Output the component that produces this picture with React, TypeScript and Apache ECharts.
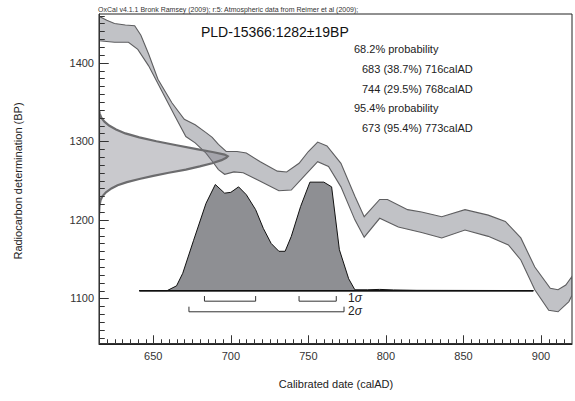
import React, { useEffect, useRef } from 'react';
import * as echarts from 'echarts';

const X_MIN = 615;
const X_MAX = 920;
const Y_MIN = 1042;
const Y_MAX = 1462;

// Calibration curve band (upper = older edge, lower = younger edge)
const curveUpperYears = [615, 620, 625, 632, 638, 642, 647, 653, 662, 670, 677, 684, 688, 692, 697, 704, 710, 719, 730, 736, 744, 750, 756, 762, 771, 780, 786, 796, 801, 814, 823, 836, 851, 866, 877, 887, 896, 906, 911, 916, 920];
const curveUpperBP = [1459, 1454, 1450, 1448, 1447, 1435, 1411, 1379, 1349, 1328, 1321, 1311, 1305, 1296, 1287, 1287, 1285, 1274, 1262, 1261, 1272, 1287, 1299, 1294, 1272, 1230, 1204, 1226, 1226, 1213, 1210, 1204, 1213, 1206, 1198, 1177, 1140, 1113, 1111, 1117, 1128];
const curveLowerYears = [615, 625, 634, 640, 647, 656, 664, 671, 677, 684, 689, 692, 696, 702, 708, 719, 731, 739, 747, 756, 763, 771, 780, 786, 796, 808, 823, 836, 851, 866, 879, 887, 896, 905, 911, 918, 920];
const curveLowerBP = [1428, 1426, 1426, 1417, 1396, 1362, 1332, 1306, 1298, 1285, 1272, 1264, 1258, 1261, 1260, 1249, 1237, 1238, 1255, 1274, 1268, 1242, 1200, 1178, 1202, 1191, 1184, 1177, 1187, 1179, 1168, 1149, 1111, 1085, 1083, 1096, 1104];

// Radiocarbon measurement (drawn against the y axis): BP and width in years
const gaussBP = [1340, 1335, 1330, 1325, 1320, 1315, 1310, 1305, 1300, 1295, 1290, 1286, 1283, 1281, 1279, 1276, 1272, 1268, 1264, 1260, 1256, 1252, 1248, 1244, 1240, 1235, 1230, 1225, 1218, 1206];
const gaussWidth = [0, 0.5, 1.5, 3.5, 6.5, 11, 17, 26, 37, 50, 63, 74, 81, 83, 82, 79, 73, 65, 56, 45, 35, 26, 18, 12, 8, 4.5, 2.2, 1, 0.3, 0];

// Calibrated distribution (height in BP units above the baseline)
const postYears = [641, 659, 665, 669, 676, 684, 690, 696, 700, 705, 710, 716, 721, 726, 731, 735, 739, 745, 751, 760, 765, 770, 776, 780, 788, 796, 805, 820, 895];
const postHeight = [0, 0, 6, 22, 64, 111, 135, 124, 125, 132, 122, 103, 79, 60, 50, 50, 69, 107, 138, 138, 132, 52, 15, 1, 1, 1.5, 0.8, 0.3, 0];
const POST_BASE = 1110;

const sigma1Ranges = [[683, 716], [744, 768]];
const sigma2Ranges = [[673, 773]];

const xMajorTicks = [650, 700, 750, 800, 850, 900];
const yMajorTicks = [1100, 1200, 1300, 1400];
const xMinorTicks = [620, 625, 630, 635, 640, 645, 650, 655, 660, 665, 670, 675, 680, 685, 690, 695, 700, 705, 710, 715, 720, 725, 730, 735, 740, 745, 750, 755, 760, 765, 770, 775, 780, 785, 790, 795, 800, 805, 810, 815, 820, 825, 830, 835, 840, 845, 850, 855, 860, 865, 870, 875, 880, 885, 890, 895, 900, 905, 910, 915];
const yMinorTicks = [1050, 1060, 1070, 1080, 1090, 1100, 1110, 1120, 1130, 1140, 1150, 1160, 1170, 1180, 1190, 1200, 1210, 1220, 1230, 1240, 1250, 1260, 1270, 1280, 1290, 1300, 1310, 1320, 1330, 1340, 1350, 1360, 1370, 1380, 1390, 1400, 1410, 1420, 1430, 1440, 1450, 1460];

const FONT = "'Liberation Sans', Arial, Helvetica, sans-serif";

export default function App() {
  const ref = useRef<HTMLDivElement>(null);
  useEffect(() => {
    document.body.style.margin = '0';
    const chart = echarts.init(ref.current!, null, { renderer: 'svg' });

    const bandRender = (params: any, api: any) => {
      const pts: number[][] = [];
      curveUpperYears.forEach((y, i) => pts.push(api.coord([y, curveUpperBP[i]])));
      for (let i = curveLowerYears.length - 1; i >= 0; i--) pts.push(api.coord([curveLowerYears[i], curveLowerBP[i]]));
      return {
        type: 'polygon',
        shape: { points: pts },
        style: { fill: 'rgba(108,110,120,0.42)', stroke: '#5e5e60', lineWidth: 1.1 },
      };
    };

    const gaussRender = (params: any, api: any) => {
      const pts = gaussBP.map((bp, i) => api.coord([X_MIN + gaussWidth[i], bp]));
      return {
        type: 'polygon',
        shape: { points: pts },
        style: { fill: 'rgba(120,120,130,0.40)', stroke: '#6c6c6e', lineWidth: 2.2 },
      };
    };

    const postRender = (params: any, api: any) => {
      const pts = postYears.map((yr, i) => api.coord([yr, POST_BASE + postHeight[i]]));
      pts.push(api.coord([postYears[postYears.length - 1], POST_BASE]));
      pts.push(api.coord([postYears[0], POST_BASE]));
      const a = api.coord([postYears[0], POST_BASE]);
      const b = api.coord([postYears[postYears.length - 1], POST_BASE]);
      return {
        type: 'group',
        children: [
          {
            type: 'polygon',
            shape: { points: pts },
            style: { fill: '#8e8f93', stroke: '#111', lineWidth: 1 },
          },
          {
            type: 'polyline',
            shape: { points: [[a[0], a[1]], [b[0], b[1]], [b[0], b[1] + 0.6], [a[0], a[1] + 0.6]] },
            style: { stroke: '#111', lineWidth: 1, fill: null },
          },
        ],
      };
    };

    const bracketRender = (params: any, api: any) => {
      const children: any[] = [];
      const levels = [
        { ranges: sigma1Ranges, top: 1103, bot: 1096.5, label: '1{s|σ}', labelBP: 1100 },
        { ranges: sigma2Ranges, top: 1089.5, bot: 1083, label: '2{s|σ}', labelBP: 1083.5 },
      ];
      let maxEnd = 0;
      levels.forEach((l) => l.ranges.forEach((r) => (maxEnd = Math.max(maxEnd, r[1]))));
      levels.forEach((l) => {
        l.ranges.forEach((r) => {
          const p = [
            api.coord([r[0], l.top]),
            api.coord([r[0], l.bot]),
            api.coord([r[1], l.bot]),
            api.coord([r[1], l.top]),
          ];
          children.push({
            type: 'polyline',
            shape: { points: p },
            style: { stroke: '#333', lineWidth: 1, fill: null },
          });
        });
        const t = api.coord([maxEnd, l.labelBP]);
        children.push({
          type: 'text',
          x: t[0] + 4,
          y: t[1],
          style: {
            text: l.label,
            fill: '#222',
            fontSize: 12,
            fontFamily: FONT,
            verticalAlign: 'middle',
            align: 'left',
            rich: { s: { fontStyle: 'italic', fontSize: 12, fontFamily: FONT, fill: '#222' } },
          },
        });
      });
      return { type: 'group', children };
    };

    // inward axis ticks as one long zig-zag polyline per axis (runs along the axis line)
    const tickRender = (params: any, api: any) => {
      const xPts: number[][] = [];
      const origin = api.coord([X_MIN, Y_MIN]);
      xPts.push([origin[0], origin[1] - 0.5]);
      xMinorTicks.forEach((v) => {
        const p = api.coord([v, Y_MIN]);
        const len = xMajorTicks.indexOf(v) >= 0 ? 8 : 4;
        const x = Math.round(p[0]) + 0.5;
        const base = p[1] - 0.5;
        xPts.push([x, base], [x, base - len], [x, base]);
      });
      const xEnd = api.coord([X_MAX, Y_MIN]);
      xPts.push([xEnd[0], xEnd[1] - 0.5]);

      const yPts: number[][] = [];
      yPts.push([origin[0] + 0.5, origin[1]]);
      yMinorTicks.forEach((v) => {
        const p = api.coord([X_MIN, v]);
        const len = yMajorTicks.indexOf(v) >= 0 ? 9 : 5;
        const y = Math.round(p[1]) + 0.5;
        const base = p[0] + 0.5;
        yPts.push([base, y], [base + len, y], [base, y]);
      });
      const yEnd = api.coord([X_MIN, Y_MAX]);
      yPts.push([yEnd[0] + 0.5, yEnd[1]]);

      return {
        type: 'group',
        children: [
          { type: 'polyline', shape: { points: xPts }, style: { stroke: '#333', lineWidth: 1, fill: null } },
          { type: 'polyline', shape: { points: yPts }, style: { stroke: '#333', lineWidth: 1, fill: null } },
        ],
      };
    };

    const axisText = { color: '#333', fontSize: 11, fontFamily: FONT, formatter: (v: number) => String(v) };

    const option: any = {
      animation: false,
      backgroundColor: '#fff',
      grid: {
        left: 99,
        right: 3,
        top: 14,
        bottom: 57,
        show: true,
        borderColor: '#222',
        borderWidth: 1,
        backgroundColor: 'transparent',
      },
      xAxis: {
        type: 'value',
        min: X_MIN,
        max: X_MAX,
        position: 'bottom',
        axisLine: { show: true, lineStyle: { color: '#222', width: 1 } },
        axisTick: { show: false },
        axisLabel: { ...axisText, customValues: xMajorTicks, margin: 6 },
        splitLine: { show: false },
      },
      yAxis: {
        type: 'value',
        min: Y_MIN,
        max: Y_MAX,
        position: 'left',
        axisLine: { show: true, lineStyle: { color: '#222', width: 1 } },
        axisTick: { show: false },
        axisLabel: { ...axisText, customValues: yMajorTicks, margin: 5 },
        splitLine: { show: false },
      },
      series: [
        { type: 'custom', name: 'curve', clip: true, renderItem: bandRender, data: [[X_MIN, Y_MIN]], silent: true },
        { type: 'custom', name: 'measurement', clip: true, renderItem: gaussRender, data: [[X_MIN, Y_MIN]], silent: true },
        { type: 'custom', name: 'posterior', clip: true, renderItem: postRender, data: [[X_MIN, Y_MIN]], silent: true },
        { type: 'custom', name: 'ranges', clip: false, renderItem: bracketRender, data: [[X_MIN, Y_MIN]], silent: true },
        { type: 'custom', name: 'axisTicks', clip: false, renderItem: tickRender, data: [[X_MIN, Y_MIN]], silent: true },
      ],
      graphic: [
        {
          type: 'text',
          x: 98,
          y: 9.5,
          style: {
            text: 'OxCal v4.1.1 Bronk Ramsey (2009); r:5: Atmospheric data from Reimer et al (2009);',
            fill: '#333',
            fontSize: 7,
            fontFamily: FONT,
            verticalAlign: 'middle',
          },
        },
        {
          type: 'text',
          x: 201,
          y: 31.5,
          style: { text: 'PLD-15366:1282±19BP', fill: '#111', fontSize: 14, fontFamily: FONT, verticalAlign: 'middle' },
        },
        { type: 'text', x: 354, y: 48.5, style: { text: '68.2% probability', fill: '#222', fontSize: 11, fontFamily: FONT, verticalAlign: 'middle' } },
        { type: 'text', x: 362, y: 68.5, style: { text: '683 (38.7%) 716calAD', fill: '#222', fontSize: 11, fontFamily: FONT, verticalAlign: 'middle' } },
        { type: 'text', x: 362, y: 88.5, style: { text: '744 (29.5%) 768calAD', fill: '#222', fontSize: 11, fontFamily: FONT, verticalAlign: 'middle' } },
        { type: 'text', x: 354, y: 108, style: { text: '95.4% probability', fill: '#222', fontSize: 11, fontFamily: FONT, verticalAlign: 'middle' } },
        { type: 'text', x: 362, y: 128, style: { text: '673 (95.4%) 773calAD', fill: '#222', fontSize: 11, fontFamily: FONT, verticalAlign: 'middle' } },
        {
          type: 'text',
          x: 18,
          y: 181,
          rotation: Math.PI / 2,
          style: { text: 'Radiocarbon determination (BP)', fill: '#222', fontSize: 11, fontFamily: FONT, align: 'center', verticalAlign: 'middle' },
        },
        {
          type: 'text',
          x: 336,
          y: 384,
          style: { text: 'Calibrated date (calAD)', fill: '#222', fontSize: 11, fontFamily: FONT, align: 'center', verticalAlign: 'middle' },
        },
      ],
    };

    chart.setOption(option);
    return () => chart.dispose();
  }, []);
  return <div ref={ref} style={{ width: 575, height: 401 }} />;
}
